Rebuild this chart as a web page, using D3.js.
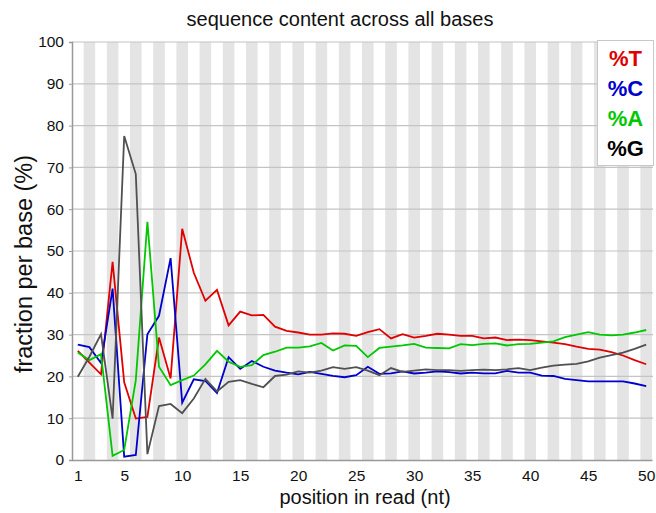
<!DOCTYPE html>
<html><head><meta charset="utf-8">
<script src="https://cdn.jsdelivr.net/npm/d3@7"></script>
<style>body{margin:0;background:#fff;} svg{display:block;font-family:"Liberation Sans",Arial,sans-serif;}</style>
</head><body>
<svg id="chart" width="656" height="513"></svg>
<script>
const positions = d3.range(1, 51);
const xTicks = [1, 5, 10, 15, 20, 25, 30, 35, 40, 45, 50];
const yTicks = [0, 10, 20, 30, 40, 50, 60, 70, 80, 90, 100];
const seriesNames = ["%T", "%C", "%A", "%G"];
const seriesColors = ["#e00000", "#0000cc", "#00c800", "#505050"];
const legendColors = ["#e00000", "#0000cc", "#00c800", "#000000"];
const valuesT = [26.1,23.3,20.5,47.4,18.6,9.9,10.3,29.3,19.5,55.3,44.8,38.1,40.7,32.2,35.5,34.6,34.7,31.9,
  30.9,30.5,30.0,30.0,30.3,30.2,29.7,30.6,31.3,29.1,
  30.1,29.3,29.7,30.2,30.0,29.7,29.7,29.1,29.3,28.7,28.8,28.7,
  28.4,28.1,27.7,27.1,26.6,26.4,25.8,25.0,23.9,22.9];
const valuesC = [27.6,27.0,23.2,41.0,0.8,1.2,30.1,34.5,48.3,13.7,19.3,18.9,16.0,24.6,21.8,23.7,22.3,21.4,
  20.9,20.5,21.1,20.6,20.1,19.8,20.3,22.3,20.6,20.7,
  21.2,20.7,20.9,21.2,21.0,20.7,20.9,20.7,20.7,21.3,20.9,20.9,
  20.2,20.1,19.4,19.1,18.8,18.8,18.8,18.8,18.3,17.7];
const valuesA = [25.7,23.9,25.3,1.0,2.4,19.1,57.0,22.3,17.9,19.1,20.2,22.9,26.1,23.5,22.3,22.7,25.1,25.9,
  26.9,26.9,27.2,28.0,26.2,27.4,27.3,24.6,26.8,27.1,
  27.4,27.8,26.9,26.8,26.7,27.7,27.5,27.8,27.9,27.4,27.7,27.8,
  28.1,28.4,29.4,30.0,30.6,30.0,29.8,30.0,30.5,31.1];
const valuesG = [19.9,24.7,30.1,9.9,77.5,68.4,1.4,12.9,13.4,11.2,14.7,19.4,16.4,18.7,19.1,18.2,17.4,20.1,
  20.4,21.2,20.9,21.4,22.2,21.8,22.2,21.4,20.3,22.0,
  21.1,21.4,21.7,21.5,21.5,21.3,21.5,21.6,21.5,21.7,22.0,21.5,
  22.1,22.6,22.8,23.0,23.6,24.5,25.1,25.7,26.6,27.6];
const allSeries = [valuesT, valuesC, valuesA, valuesG];

const svg = d3.select("#chart");
const mLeft = 72, mRight = 652, mTop = 42, mBottom = 460;
const x = d3.scaleLinear().domain([0.5, 50.5]).range([mLeft, mRight]);
const y = d3.scaleLinear().domain([0, 100]).range([mBottom, mTop]);
const unit = x(2) - x(1);

// stripes for even positions
svg.append("g").selectAll("rect").data(positions.filter(p => p % 2 === 0)).join("rect")
  .attr("x", p => x(p) - unit / 2).attr("width", unit)
  .attr("y", mTop).attr("height", mBottom - mTop).attr("fill", "#e4e4e4");

// horizontal gridlines
svg.append("g").selectAll("line").data(yTicks.filter(t => t > 0)).join("line")
  .attr("x1", mLeft).attr("x2", mRight + 1).attr("y1", d => y(d)).attr("y2", d => y(d))
  .attr("stroke", "#c4c4c4").attr("stroke-width", 1.2);

// axes
const yAxis = svg.append("g").attr("transform", `translate(${mLeft},0)`)
  .call(d3.axisLeft(y).tickValues(yTicks).tickSize(3).tickPadding(5));
const xAxis = svg.append("g").attr("transform", `translate(0,${mBottom})`)
  .call(d3.axisBottom(x).tickValues(xTicks).tickSize(0).tickPadding(10));
[yAxis, xAxis].forEach(a => {
  a.select(".domain").attr("stroke", "#999").attr("stroke-width", 1.5);
  a.selectAll(".tick line").attr("stroke", "#999");
  a.selectAll("text").attr("font-size", 15.5).attr("fill", "#111")
    .attr("font-family", "'Liberation Sans', Arial, sans-serif");
});

// lines
const line = d3.line().x((d, i) => x(positions[i])).y(d => y(d));
allSeries.forEach((vals, k) => {
  svg.append("path").datum(vals).attr("d", line)
    .attr("fill", "none").attr("stroke", seriesColors[k]).attr("stroke-width", 1.8)
    .attr("stroke-linejoin", "miter");
});

// legend
const lg = svg.append("g");
lg.append("rect").attr("x", 597.5).attr("y", 40.5).attr("width", 56).attr("height", 125)
  .attr("fill", "#fff").attr("stroke", "#c8c8c8").attr("stroke-width", 1);
lg.selectAll("text").data(seriesNames).join("text")
  .attr("x", 625.5).attr("y", (d, i) => 66 + i * 30)
  .attr("text-anchor", "middle").attr("font-size", 22).attr("font-weight", "bold")
  .attr("fill", (d, i) => legendColors[i]).text(d => d);

// titles
svg.append("text").attr("x", 340).attr("y", 26).attr("text-anchor", "middle")
  .attr("font-size", 20).attr("fill", "#111").text("sequence content across all bases");
svg.append("text").attr("x", 365).attr("y", 504).attr("text-anchor", "middle")
  .attr("font-size", 20).attr("fill", "#111").text("position in read (nt)");
svg.append("text").attr("transform", "translate(32,264) rotate(-90)").attr("text-anchor", "middle")
  .attr("font-size", 23.5).attr("fill", "#111").text("fraction per base (%)");
</script>
</body></html>
